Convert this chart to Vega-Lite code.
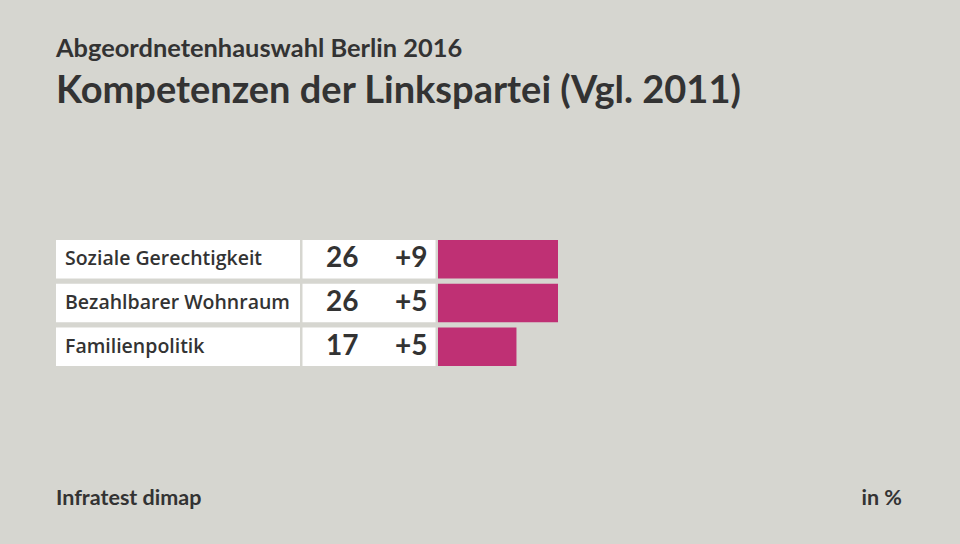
{
  "$schema": "https://vega.github.io/schema/vega-lite/v6.json",
  "background": "#d6d6d0",
  "padding": {"left": 56, "top": 36, "right": 58, "bottom": 40},
  "title": {
    "text": "Abgeordnetenhauswahl Berlin 2016",
    "subtitle": "Kompetenzen der Linkspartei (Vgl. 2011)",
    "anchor": "start",
    "frame": "bounds",
    "font": "Lato",
    "fontSize": 25.4,
    "fontWeight": "bold",
    "color": "#333333",
    "subtitleFont": "Lato",
    "subtitleFontSize": 38,
    "subtitleFontWeight": "bold",
    "subtitleColor": "#333333",
    "subtitlePadding": 11,
    "offset": 129
  },
  "datasets": {
    "rows": [
      {"thema": "Soziale Gerechtigkeit", "wert": 26, "diff": "+9"},
      {"thema": "Bezahlbarer Wohnraum", "wert": 26, "diff": "+5"},
      {"thema": "Familienpolitik", "wert": 17, "diff": "+5"}
    ],
    "quelle": [
      {"t": "Infratest dimap"},
      {"t": "in %"}
    ]
  },
  "config": {"view": {"stroke": null}},
  "spacing": 119,
  "vconcat": [
    {
      "spacing": 2.5,
      "hconcat": [
        {
          "width": 244,
          "height": 126,
          "data": {"name": "rows"},
          "layer": [
            {
              "mark": {"type": "rect", "color": "white"},
              "encoding": {
                "y": {"field": "thema", "type": "nominal", "sort": null, "axis": null, "scale": {"paddingInner": 0.12, "paddingOuter": 0}},
                "x": {"value": 0},
                "x2": {"value": "width"}
              }
            },
            {
              "mark": {"type": "text", "align": "left", "baseline": "middle", "dx": 9, "font": "Open Sans", "fontSize": 19.5, "fontWeight": 600, "color": "#333333"},
              "encoding": {
                "y": {"field": "thema", "type": "nominal", "sort": null, "axis": null, "scale": {"paddingInner": 0.12, "paddingOuter": 0}},
                "x": {"value": 0},
                "text": {"field": "thema"}
              }
            }
          ]
        },
        {
          "width": 133,
          "height": 126,
          "data": {"name": "rows"},
          "layer": [
            {
              "mark": {"type": "rect", "color": "white"},
              "encoding": {
                "y": {"field": "thema", "type": "nominal", "sort": null, "axis": null, "scale": {"paddingInner": 0.12, "paddingOuter": 0}},
                "x": {"value": 0},
                "x2": {"value": "width"}
              }
            },
            {
              "mark": {"type": "text", "align": "right", "baseline": "middle", "font": "Lato", "fontSize": 28, "fontWeight": "bold", "color": "#333333"},
              "encoding": {
                "y": {"field": "thema", "type": "nominal", "sort": null, "axis": null, "scale": {"paddingInner": 0.12, "paddingOuter": 0}},
                "x": {"value": 56},
                "text": {"field": "wert"}
              }
            },
            {
              "mark": {"type": "text", "align": "right", "baseline": "middle", "font": "Lato", "fontSize": 28, "fontWeight": "bold", "color": "#333333"},
              "encoding": {
                "y": {"field": "thema", "type": "nominal", "sort": null, "axis": null, "scale": {"paddingInner": 0.12, "paddingOuter": 0}},
                "x": {"value": 125},
                "text": {"field": "diff"}
              }
            }
          ]
        },
        {
          "width": 120,
          "height": 126,
          "data": {"name": "rows"},
          "mark": {"type": "bar", "color": "#bf3074"},
          "encoding": {
            "y": {"field": "thema", "type": "nominal", "sort": null, "axis": null, "scale": {"paddingInner": 0.12, "paddingOuter": 0}},
            "x": {"field": "wert", "type": "quantitative", "axis": null, "scale": {"domain": [0, 26], "nice": false, "zero": true}}
          }
        }
      ]
    },
    {
      "width": 846,
      "height": 20,
      "data": {"name": "quelle"},
      "layer": [
        {
          "transform": [{"filter": "datum.t == 'Infratest dimap'"}],
          "mark": {"type": "text", "align": "left", "baseline": "alphabetic", "font": "Lato", "fontSize": 21.5, "fontWeight": "bold", "color": "#333333"},
          "encoding": {"x": {"value": 0}, "y": {"value": "height"}, "text": {"field": "t"}}
        },
        {
          "transform": [{"filter": "datum.t == 'in %'"}],
          "mark": {"type": "text", "align": "right", "baseline": "alphabetic", "font": "Lato", "fontSize": 21.5, "fontWeight": "bold", "color": "#333333"},
          "encoding": {"x": {"value": "width"}, "y": {"value": "height"}, "text": {"field": "t"}}
        }
      ]
    }
  ]
}
